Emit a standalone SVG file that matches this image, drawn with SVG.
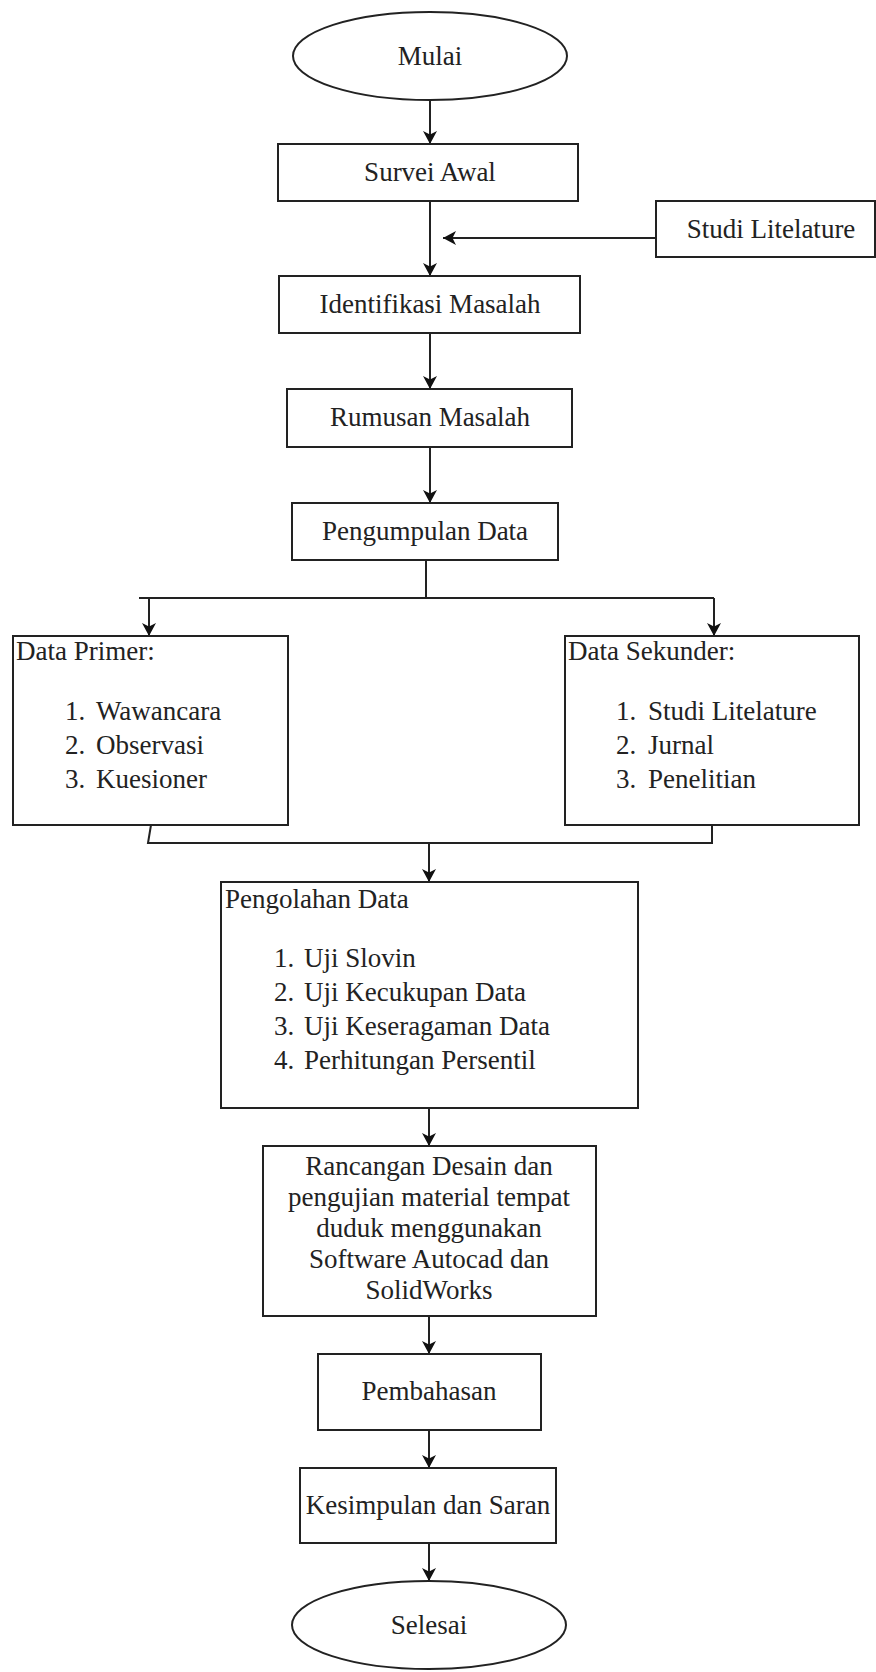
<svg xmlns="http://www.w3.org/2000/svg" width="876" height="1672" viewBox="0 0 876 1672">
<defs>
<marker id="arr" markerUnits="userSpaceOnUse" markerWidth="14" markerHeight="14" refX="13" refY="7" orient="auto">
<path d="M0,0 L13,7 L0,14 L3.5,7 z" fill="#111"/>
</marker>
<style>
.box{fill:#fff;stroke:#222;stroke-width:2}
.t{font-family:"Liberation Serif","Times New Roman",serif;font-size:27px;fill:#222}
.c{text-anchor:middle}
.ln{fill:none;stroke:#222;stroke-width:2}
.ar{fill:none;stroke:#222;stroke-width:2;marker-end:url(#arr)}
</style>
</defs>
<rect width="876" height="1672" fill="#fff"/>
<g id="connectors">
<line class="ar" x1="430" y1="100" x2="430" y2="144"/>
<line class="ar" x1="430" y1="201" x2="430" y2="276"/>
<line class="ar" x1="656" y1="238" x2="443" y2="238"/>
<line class="ar" x1="430" y1="333" x2="430" y2="389"/>
<line class="ar" x1="430" y1="447" x2="430" y2="503"/>
<polyline class="ln" points="426,560 426,598"/>
<polyline class="ln" points="139,598 714,598"/>
<line class="ar" x1="149" y1="598" x2="149" y2="636"/>
<line class="ar" x1="714" y1="598" x2="714" y2="636"/>
<polyline class="ln" points="151,825 148,843 712,843 712,825"/>
<line class="ar" x1="429" y1="843" x2="429" y2="882"/>
<line class="ar" x1="429" y1="1108" x2="429" y2="1146"/>
<line class="ar" x1="429" y1="1316" x2="429" y2="1354"/>
<line class="ar" x1="429" y1="1430" x2="429" y2="1468"/>
<line class="ar" x1="429" y1="1543" x2="429" y2="1581"/>
</g>
<g id="mulai">
<ellipse class="box" cx="430" cy="56" rx="137" ry="44"/>
<text class="t c" x="430" y="65">Mulai</text>
</g>
<g id="survei">
<rect class="box" x="278" y="144" width="300" height="57"/>
<text class="t c" x="430" y="181">Survei Awal</text>
</g>
<g id="studi">
<rect class="box" x="656" y="201" width="219" height="56"/>
<text class="t c" x="771" y="238">Studi Litelature</text>
</g>
<g id="identifikasi">
<rect class="box" x="279" y="276" width="301" height="57"/>
<text class="t c" x="430" y="313">Identifikasi Masalah</text>
</g>
<g id="rumusan">
<rect class="box" x="287" y="389" width="285" height="58"/>
<text class="t c" x="430" y="426">Rumusan Masalah</text>
</g>
<g id="pengumpulan">
<rect class="box" x="292" y="503" width="266" height="57"/>
<text class="t c" x="425" y="540">Pengumpulan Data</text>
</g>
<g id="primer">
<rect class="box" x="13" y="636" width="275" height="189"/>
<text class="t" x="16" y="660">Data Primer:</text>
<text class="t" x="65" y="720">1.</text><text class="t" x="96" y="720">Wawancara</text>
<text class="t" x="65" y="754">2.</text><text class="t" x="96" y="754">Observasi</text>
<text class="t" x="65" y="788">3.</text><text class="t" x="96" y="788">Kuesioner</text>
</g>
<g id="sekunder">
<rect class="box" x="565" y="636" width="294" height="189"/>
<text class="t" x="568" y="660">Data Sekunder:</text>
<text class="t" x="616" y="720">1.</text><text class="t" x="648" y="720">Studi Litelature</text>
<text class="t" x="616" y="754">2.</text><text class="t" x="648" y="754">Jurnal</text>
<text class="t" x="616" y="788">3.</text><text class="t" x="648" y="788">Penelitian</text>
</g>
<g id="pengolahan">
<rect class="box" x="221" y="882" width="417" height="226"/>
<text class="t" x="225" y="908">Pengolahan Data</text>
<text class="t" x="274" y="967">1.</text><text class="t" x="304" y="967">Uji Slovin</text>
<text class="t" x="274" y="1001">2.</text><text class="t" x="304" y="1001">Uji Kecukupan Data</text>
<text class="t" x="274" y="1035">3.</text><text class="t" x="304" y="1035">Uji Keseragaman Data</text>
<text class="t" x="274" y="1069">4.</text><text class="t" x="304" y="1069">Perhitungan Persentil</text>
</g>
<g id="rancangan">
<rect class="box" x="263" y="1146" width="333" height="170"/>
<text class="t c" x="429" y="1175">Rancangan Desain dan</text>
<text class="t c" x="429" y="1206">pengujian material tempat</text>
<text class="t c" x="429" y="1237">duduk menggunakan</text>
<text class="t c" x="429" y="1268">Software Autocad dan</text>
<text class="t c" x="429" y="1299">SolidWorks</text>
</g>
<g id="pembahasan">
<rect class="box" x="318" y="1354" width="223" height="76"/>
<text class="t c" x="429" y="1400">Pembahasan</text>
</g>
<g id="kesimpulan">
<rect class="box" x="300" y="1468" width="256" height="75"/>
<text class="t c" x="428" y="1514">Kesimpulan dan Saran</text>
</g>
<g id="selesai">
<ellipse class="box" cx="429" cy="1625" rx="137" ry="44"/>
<text class="t c" x="429" y="1634">Selesai</text>
</g>
</svg>
